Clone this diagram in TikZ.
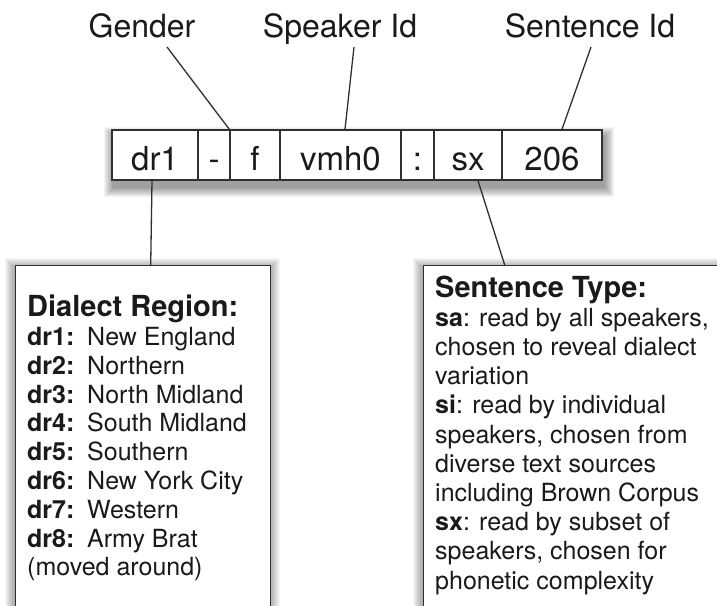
\documentclass[tikz,border=0pt]{standalone}
\usepackage{fontspec}
\setmainfont{TeX Gyre Heros}
\usetikzlibrary{calc}
\definecolor{ink}{HTML}{1A1A1A}
\definecolor{edgec}{HTML}{303030}
\newcommand\softshadow[7]{%
  \foreach \i in {1,...,10}{%
    \fill[black, opacity=#7] ({#1+#5-\i},{#2+#6-\i}) rectangle ({#3+#5+\i},{#4+#6+\i});
  }%
}
\begin{document}
\begin{tikzpicture}[x=1pt,y=-1pt,
  cell/.style={draw=edgec, line width=1.4pt, fill=white, inner sep=0pt, minimum height=50pt,
    text height=30pt, text depth=0pt, font=\fontsize{33}{40}\selectfont, text=ink},
  lbl/.style={inner sep=0pt, anchor=base, font=\fontsize{32}{38}\selectfont, text=ink},
  conn/.style={draw=edgec, line width=1.3pt},
  infobox/.style={draw=edgec, line width=1.4pt, fill=white, inner sep=0pt, anchor=north west},
  ttl/.style={inner sep=0pt, anchor=base west, font=\fontsize{29}{34}\selectfont\bfseries, text=ink},
  bodyline/.style={inner sep=0pt, anchor=base west, font=\fontsize{25}{29}\selectfont, text=ink},
]
\useasboundingbox (0,0) rectangle (717,605);
\fill[white] (0,0) rectangle (717,605);

% shadows
\softshadow{112}{130}{602}{180}{2}{7}{0.045}
\softshadow{15}{265}{270}{640}{0}{3}{0.035}
\softshadow{423}{265}{760}{640}{0}{3}{0.035}

% info boxes
\node[infobox, minimum width=255pt, minimum height=360pt] (lb) at (15,265) {};
\node[infobox, minimum width=317pt, minimum height=360pt] (rb) at (423,265) {};

% id cells
\node[cell, minimum width=86pt]  (c1) at (155,155)   {dr1};
\node[cell, minimum width=32pt]  (c2) at (214,155)   {-};
\node[cell, minimum width=50pt]  (c3) at (255,155)   {f};
\node[cell, minimum width=121pt] (c4) at (340.5,155) {vmh0};
\node[cell, minimum width=33pt]  (c5) at (417.5,155) {:};
\node[cell, minimum width=68pt]  (c6) at (468,155)   {sx};
\node[cell, minimum width=100pt] (c7) at (552,155)   {206};

% top labels
\node[lbl] (g) at (142,37) {Gender};
\node[lbl] (sp) at (340,37) {Speaker Id};
\node[lbl] (si) at (590,37) {Sentence Id};

% connectors
\draw[conn] ([xshift=25pt,yshift=-10pt]g.base) -- (c3.north west);
\draw[conn] ([xshift=14pt,yshift=-10pt]sp.base) -- ([xshift=4.5pt]c4.north);
\draw[conn] ([xshift=1pt,yshift=-10pt]si.base) -- ([xshift=10pt]c7.north);
\draw[conn] ([xshift=-3pt]c1.south) -- ([xshift=7.5pt]lb.north);
\draw[conn] ([xshift=10pt]c6.south) -- ([xshift=-77.5pt]rb.north);

% left box text
\node[ttl] (lt0) at (27,316.7) {Dialect Region:};
\node[bodyline] (lt1) at (27,345.5) {\makebox[60pt][l]{\bfseries dr1:}New England};
\node[bodyline] (lt2) at (27,374.3) {\makebox[60pt][l]{\bfseries dr2:}Northern};
\node[bodyline] (lt3) at (27,403.1) {\makebox[60pt][l]{\bfseries dr3:}North Midland};
\node[bodyline] (lt4) at (27,431.9) {\makebox[60pt][l]{\bfseries dr4:}South Midland};
\node[bodyline] (lt5) at (27,460.7) {\makebox[60pt][l]{\bfseries dr5:}Southern};
\node[bodyline] (lt6) at (27,489.5) {\makebox[60pt][l]{\bfseries dr6:}New York City};
\node[bodyline] (lt7) at (27,518.3) {\makebox[60pt][l]{\bfseries dr7:}Western};
\node[bodyline] (lt8) at (27,547.1) {\makebox[60pt][l]{\bfseries dr8:}Army Brat};
\node[bodyline] (lt9) at (27,575.9) {(moved around)};

% right box text
\node[ttl] (rt0) at (435,297) {Sentence Type:};
\node[bodyline] (rt1) at (435,326.2) {\textbf{sa}: read by all speakers,};
\node[bodyline] (rt2) at (435,355.4) {chosen to reveal dialect};
\node[bodyline] (rt3) at (435,384.6) {variation};
\node[bodyline] (rt4) at (435,413.8) {\textbf{si}: read by individual};
\node[bodyline] (rt5) at (435,443.0) {speakers, chosen from};
\node[bodyline] (rt6) at (435,472.2) {diverse text sources};
\node[bodyline] (rt7) at (435,501.4) {including Brown Corpus};
\node[bodyline] (rt8) at (435,530.6) {\textbf{sx}: read by subset of};
\node[bodyline] (rt9) at (435,559.8) {speakers, chosen for};
\node[bodyline] (rt10) at (435,589.0) {phonetic complexity};
\end{tikzpicture}
\end{document}
